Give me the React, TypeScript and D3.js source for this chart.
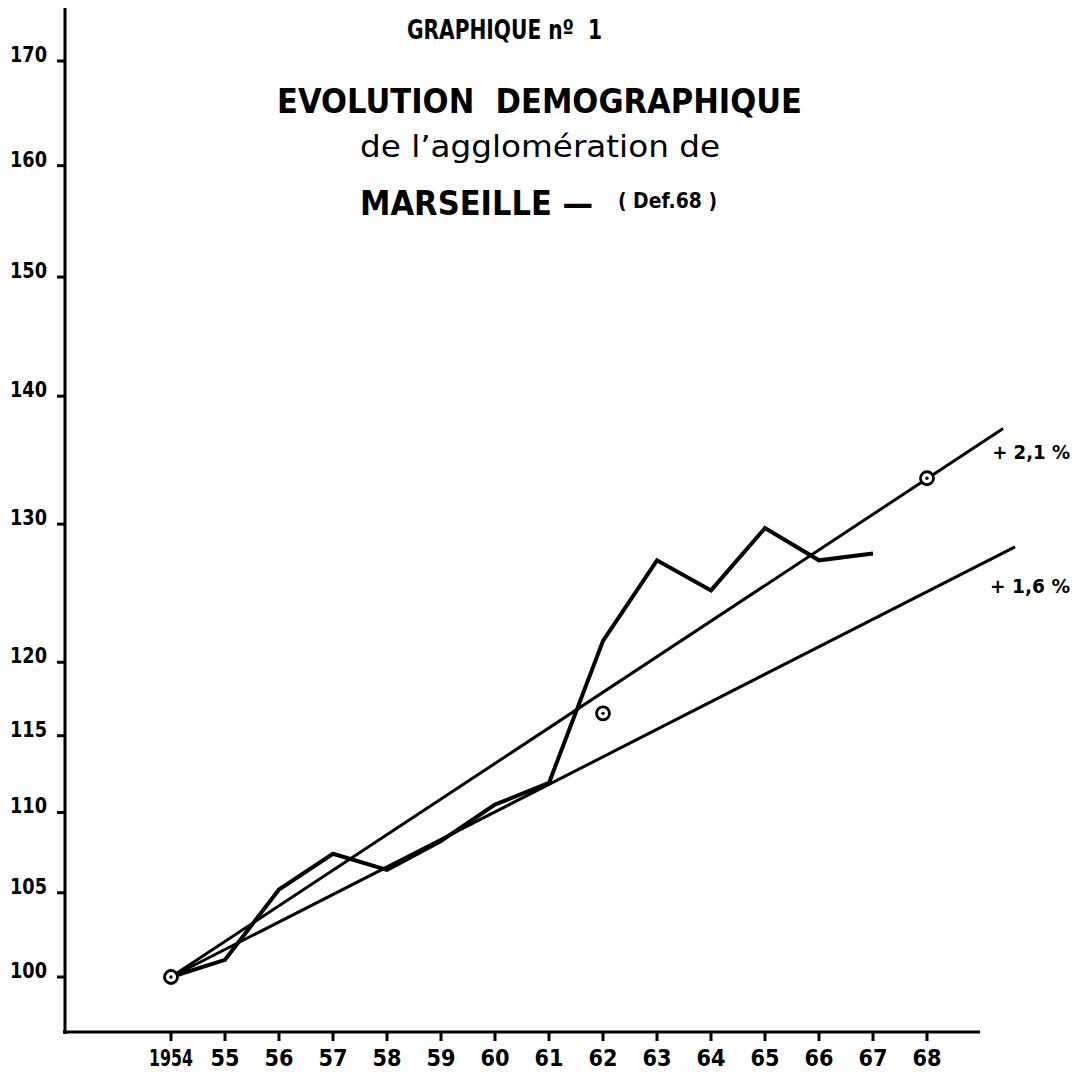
import React from "react";
import * as d3 from "d3";

const years = [1954, 1955, 1956, 1957, 1958, 1959, 1960, 1961, 1962, 1963, 1964, 1965, 1966, 1967];
const population = [100, 101.0, 105.2, 107.4, 106.4, 108.2, 110.5, 111.9, 121.5, 127.3, 125.1, 129.7, 127.3, 127.8];
const trend21 = [[1954, 100], [1969.41, 137.4]];
const trend16 = [[1954, 100], [1969.63, 128.3]];
const markers = [[1954, 100], [1962, 116.5], [1968, 133.5]];
const yTicks = [100, 105, 110, 115, 120, 130, 140, 150, 160, 170];
const xTicks = [1954, 1955, 1956, 1957, 1958, 1959, 1960, 1961, 1962, 1963, 1964, 1965, 1966, 1967, 1968];
const xTickLabels = ["1954", "55", "56", "57", "58", "59", "60", "61", "62", "63", "64", "65", "66", "67", "68"];
const trendLabels = ["+ 2,1 %", "+ 1,6 %"];

const FONT = "'DejaVu Sans', 'Liberation Sans', sans-serif";

export default function App() {
  const W = 1078, H = 1072;
  const xs = d3.scaleLinear().domain([1954, 1968]).range([171, 927]);
  const ys = d3.scaleLog().domain([100, 170]).range([977, 61]);
  const axisX = 65, axisY = 1032;

  const line = d3.line<number[]>().x((d) => xs(d[0])).y((d) => ys(d[1]));
  const dataPts = years.map((y, i) => [y, population[i]]);
  const pre = { whiteSpace: "pre" as const };

  return (
    <svg width={W} height={H} style={{ position: "absolute", left: 0, top: 0, background: "#fff" }}>
      <rect x={0} y={0} width={W} height={H} fill="#fff" />
      {/* Titles */}
      <g fill="#000" fontFamily={FONT}>
        <text x={407} y={39} fontSize={27} fontWeight="bold" textLength={195} lengthAdjust="spacingAndGlyphs" style={pre}>GRAPHIQUE nº  1</text>
        <text x={277} y={113} fontSize={33} fontWeight="bold" textLength={525} lengthAdjust="spacingAndGlyphs" style={pre}>EVOLUTION  DEMOGRAPHIQUE</text>
        <text x={360} y={157} fontSize={30} textLength={360} lengthAdjust="spacingAndGlyphs">de l’agglomération de</text>
        <text x={360} y={215} fontSize={33} fontWeight="bold" textLength={233} lengthAdjust="spacingAndGlyphs">MARSEILLE —</text>
        <text x={618} y={208} fontSize={22} fontWeight="bold" textLength={99} lengthAdjust="spacingAndGlyphs">( Def.68 )</text>
      </g>

      {/* Axes */}
      <line x1={axisX} y1={8} x2={axisX} y2={axisY + 2} stroke="#000" strokeWidth={3} />
      <line x1={axisX - 2} y1={axisY} x2={980} y2={axisY} stroke="#000" strokeWidth={3} />

      {yTicks.map((t) => (
        <g key={t}>
          <line x1={axisX - 8} x2={axisX} y1={ys(t)} y2={ys(t)} stroke="#000" strokeWidth={3} />
          <text x={47} y={ys(t) + 1} textAnchor="end" fontFamily={FONT} fontWeight="bold" fontSize={22}
            textLength={37} lengthAdjust="spacingAndGlyphs">{t}</text>
        </g>
      ))}

      {xTicks.map((t, i) => (
        <g key={t}>
          <line x1={xs(t)} x2={xs(t)} y1={axisY} y2={axisY + 9} stroke="#000" strokeWidth={3} />
          <text x={xs(t)} y={1066} textAnchor="middle" fontFamily={FONT} fontWeight="bold" fontSize={23}
            textLength={xTickLabels[i].length === 4 ? 44 : 29} lengthAdjust="spacingAndGlyphs">{xTickLabels[i]}</text>
        </g>
      ))}

      {/* Trend lines */}
      <path d={line(trend21) || ""} fill="none" stroke="#000" strokeWidth={3} />
      <path d={line(trend16) || ""} fill="none" stroke="#000" strokeWidth={3} />

      {/* Data line */}
      <path d={line(dataPts) || ""} fill="none" stroke="#000" strokeWidth={4} strokeLinejoin="miter" />

      {/* Trend labels */}
      <text x={xs(trend21[1][0]) - 11} y={ys(trend21[1][1]) + 30} fontFamily={FONT} fontWeight="bold" fontSize={20}
        textLength={78} lengthAdjust="spacingAndGlyphs" style={pre}>{trendLabels[0]}</text>
      <text x={xs(trend16[1][0]) - 25} y={ys(trend16[1][1]) + 46} fontFamily={FONT} fontWeight="bold" fontSize={20}
        textLength={80} lengthAdjust="spacingAndGlyphs" style={pre}>{trendLabels[1]}</text>

      {/* Markers */}
      {markers.map((m, i) => (
        <g key={i}>
          <circle cx={xs(m[0])} cy={ys(m[1])} r={6.5} fill="#fff" stroke="#000" strokeWidth={2.8} />
          <circle cx={xs(m[0])} cy={ys(m[1])} r={1.7} fill="#000" />
        </g>
      ))}
    </svg>
  );
}
